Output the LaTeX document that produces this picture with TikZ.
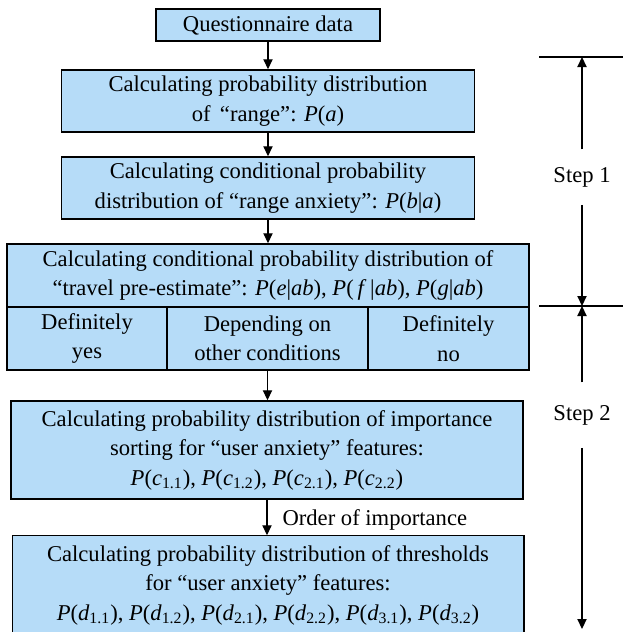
\documentclass[tikz,border=0pt]{standalone}
\usepackage{fontspec}
\setmainfont{Liberation Serif}
\usepackage{tikz}
\usetikzlibrary{arrows.meta,positioning,calc}

\definecolor{boxblue}{RGB}{182,220,248}

\begin{document}
\begin{tikzpicture}
[x=0.5pt, y=-0.5pt, draw=black, line width=0.75pt, >={Triangle[length=5pt,width=4.6pt]},
stepbox/.style={rectangle, draw, fill=boxblue, inner sep=0pt, align=center,
  font=\fontsize{11.3pt}{14.75pt}\selectfont},
steplabel/.style={inner sep=0pt, font=\fontsize{11.3pt}{14pt}\selectfont},
flow/.style={->, line width=0.6pt}]

\useasboundingbox (0,0) rectangle (623,632);

\node[stepbox, minimum width=112pt, minimum height=16pt] (b0) at (268,25) {Questionnaire data};

\node[stepbox, minimum width=206.5pt, minimum height=31pt] (b1) at (268,101)
  {Calculating probability distribution\\ of \,``range'': \textit{P}(\textit{a})};

\node[stepbox, minimum width=206.5pt, minimum height=31pt] (b2) at (268,188)
  {Calculating conditional probability\\ distribution of ``range anxiety'': \textit{P}(\textit{b}|\textit{a})};

\node[stepbox, minimum width=261pt, minimum height=31.5pt] (b3) at (268,275.5)
  {Calculating conditional probability distribution of\\ ``travel pre-estimate'': \textit{P}(\textit{e}|\textit{ab}), \textit{P}(\,\textit{f}\,|\textit{ab}), \textit{P}(\textit{g}|\textit{ab})};
\node[stepbox, minimum width=80pt, minimum height=31.5pt] (b3y) at (87,338.5) {Definitely\\ yes};
\node[stepbox, minimum width=100.5pt, minimum height=31.5pt] (b3d) at (267.5,338.5) {Depending on\\ other conditions};
\node[stepbox, minimum width=80.5pt, minimum height=31.5pt] (b3n) at (448.5,338.5) {Definitely\\ no};

\node[stepbox, minimum width=256pt, minimum height=49pt] (b4) at (267,450)
  {Calculating probability distribution of importance\\ sorting for ``user anxiety'' features:\\
   \textit{P}(\textit{c}\textsubscript{1.1}), \textit{P}(\textit{c}\textsubscript{1.2}), \textit{P}(\textit{c}\textsubscript{2.1}), \textit{P}(\textit{c}\textsubscript{2.2})};

\node[stepbox, draw=none, minimum width=255pt, minimum height=49pt] (b5) at (268,585)
  {Calculating probability distribution of thresholds\\ for ``user anxiety'' features:\\
   \textit{P}(\textit{d}\textsubscript{1.1}), \textit{P}(\textit{d}\textsubscript{1.2}), \textit{P}(\textit{d}\textsubscript{2.1}), \textit{P}(\textit{d}\textsubscript{2.2}), \textit{P}(\textit{d}\textsubscript{3.1}), \textit{P}(\textit{d}\textsubscript{3.2})};
\draw (b5.south west) -- (b5.north west) -- (b5.north east) -- (b5.south east);

\draw[flow] (b0.south) -- (b0.south |- b1.north);
\draw[flow] (b1.south) -- (b1.south |- b2.north);
\draw[flow] (b2.south) -- (b2.south |- b3.north);
\draw[flow] (b3d.south) -- (b3d.south |- b4.north);
\draw[flow] (b4.south) -- (b4.south |- b5.north)
  node[steplabel, midway, anchor=west, xshift=7.5pt, yshift=-1pt] (order) {Order of importance};

\coordinate (m1w) at (539,57);
\coordinate (m1e) at (623,57);
\coordinate (m2w) at (539,306);
\coordinate (m2e) at (623,306);
\coordinate (m3) at (582,629);

\draw[line width=0.6pt] (m1w) -- (m1e);
\draw[line width=0.6pt] (m2w) -- (m2e);

\node[steplabel, minimum height=27pt] (s1) at (582,177) {Step 1};
\node[steplabel, minimum height=32pt] (s2) at (582,415) {Step 2};

\draw[flow] (s1.north) -- (s1.north |- m1w);
\draw[flow] (s1.south) -- (s1.south |- m2w);
\draw[flow] (s2.north) -- (s2.north |- m2w);
\draw[flow] (s2.south) -- (m3);

\end{tikzpicture}
\end{document}
